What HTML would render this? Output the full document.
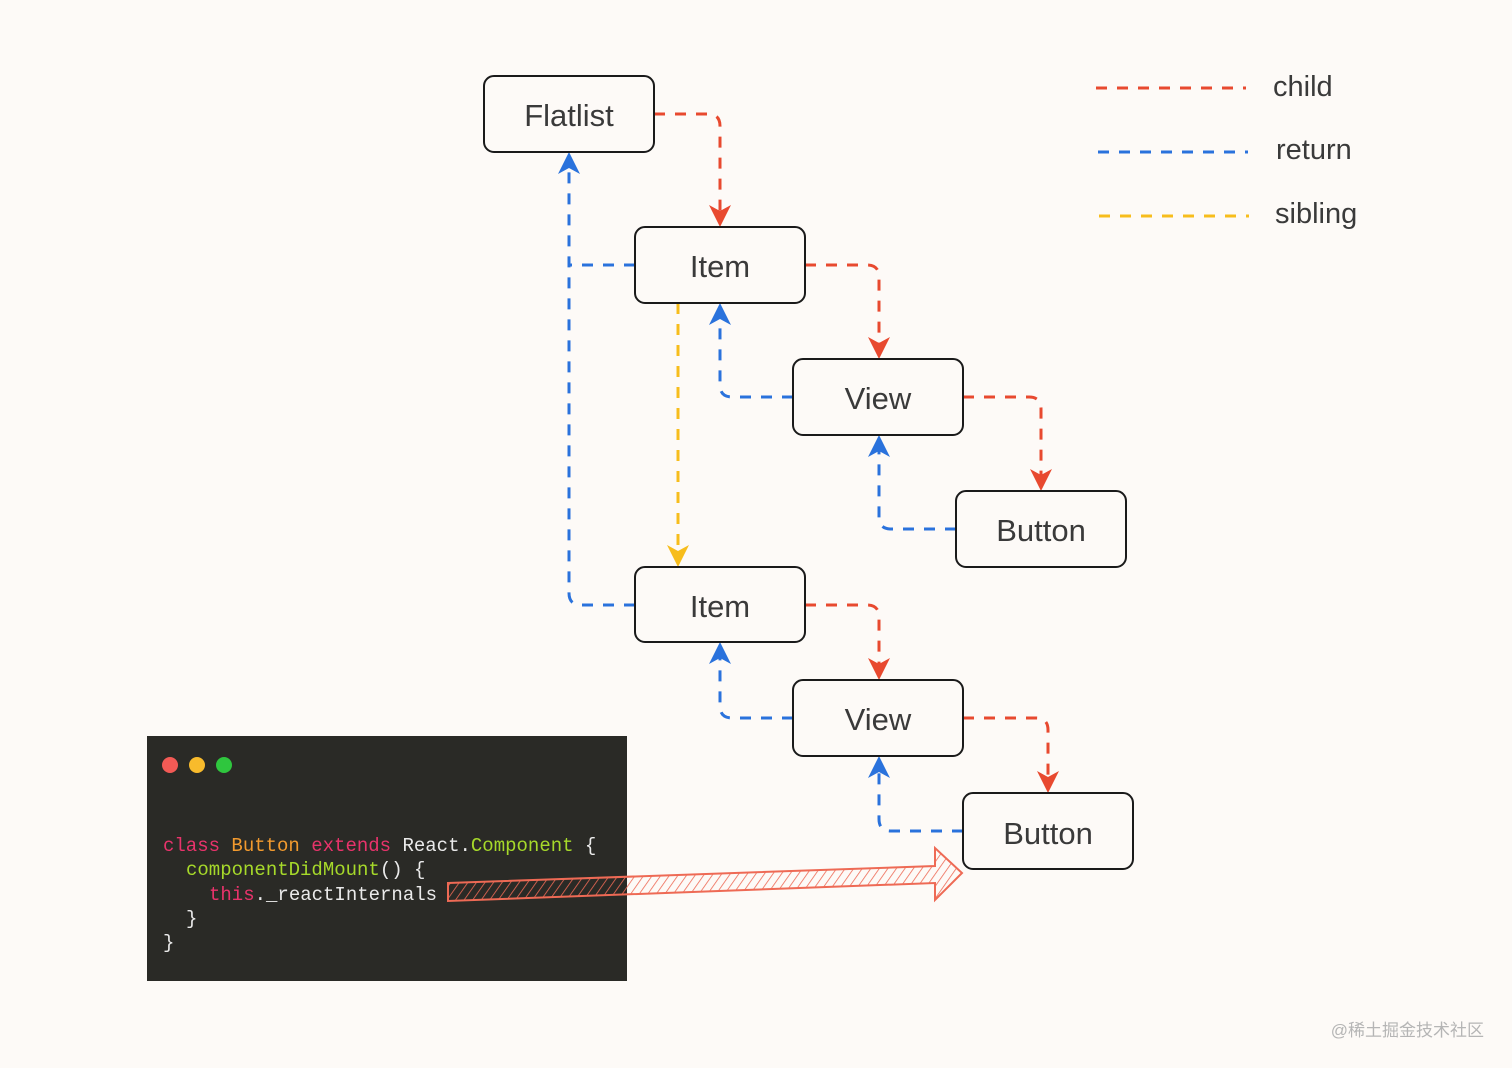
<!DOCTYPE html>
<html><head><meta charset="utf-8"><style>
html,body{margin:0;padding:0;background:#fdfaf7;}
svg{display:block}
</style></head><body>
<svg width="1512" height="1068" viewBox="0 0 1512 1068" xmlns="http://www.w3.org/2000/svg">
<defs>
<pattern id="h" width="7" height="7" patternUnits="userSpaceOnUse" patternTransform="rotate(35)">
<line x1="0" y1="0" x2="0" y2="7" stroke="#ee6a55" stroke-width="1.6"/>
</pattern>
</defs>
<rect width="1512" height="1068" fill="#fdfaf7"/>
<g fill="none" stroke-width="3" stroke-dasharray="11 10">
<g stroke="#e8492f">
<path d="M654,114 H708 Q720,114 720,126 V212"/>
<path d="M805,265 H867 Q879,265 879,277 V344"/>
<path d="M963,397 H1029 Q1041,397 1041,409 V476"/>
<path d="M805,605 H867 Q879,605 879,617 V665"/>
<path d="M963,718 H1036 Q1048,718 1048,730 V778"/>
<path d="M1096,88 H1246"/>
</g>
<g stroke="#2a72dc">
<path d="M635,265 H569"/>
<path d="M635,605 H581 Q569,605 569,593 V168"/>
<path d="M793,397 H732 Q720,397 720,385 V318"/>
<path d="M956,529 H891 Q879,529 879,517 V450"/>
<path d="M793,718 H732 Q720,718 720,706 V657"/>
<path d="M963,831 H891 Q879,831 879,819 V771"/>
<path d="M1098,152 H1248"/>
</g>
<g stroke="#f7bd1c">
<path d="M678,303 V552"/>
<path d="M1099,216 H1249"/>
</g>
</g>
<g fill="#e8492f">
<path d="M720,227 L709,205 L720,211 L731,205Z"/>
<path d="M879,359 L868,337 L879,343 L890,337Z"/>
<path d="M1041,491 L1030,469 L1041,475 L1052,469Z"/>
<path d="M879,680 L868,658 L879,664 L890,658Z"/>
<path d="M1048,793 L1037,771 L1048,777 L1059,771Z"/>
</g>
<g fill="#2a72dc">
<path d="M569,152 L558,174 L569,168 L580,174Z"/>
<path d="M720,303 L709,325 L720,319 L731,325Z"/>
<path d="M879,435 L868,457 L879,451 L890,457Z"/>
<path d="M720,642 L709,664 L720,658 L731,664Z"/>
<path d="M879,756 L868,778 L879,772 L890,778Z"/>
</g>
<path d="M678,567 L667,545 L678,551 L689,545Z" fill="#f7bd1c"/>
<g fill="#fdfaf7" stroke="#1a1a1a" stroke-width="2">
<rect x="484" y="76" width="170" height="76" rx="10"/>
<rect x="635" y="227" width="170" height="76" rx="10"/>
<rect x="793" y="359" width="170" height="76" rx="10"/>
<rect x="956" y="491" width="170" height="76" rx="10"/>
<rect x="635" y="567" width="170" height="75" rx="10"/>
<rect x="793" y="680" width="170" height="76" rx="10"/>
<rect x="963" y="793" width="170" height="76" rx="10"/>
</g>
<g font-family="Liberation Sans, sans-serif" font-size="31" fill="#3a3a3a" text-anchor="middle">
<text x="569" y="126">Flatlist</text>
<text x="720" y="277">Item</text>
<text x="878" y="409">View</text>
<text x="1041" y="541">Button</text>
<text x="720" y="617">Item</text>
<text x="878" y="730">View</text>
<text x="1048" y="844">Button</text>
</g>
<g font-family="Liberation Sans, sans-serif" font-size="29" fill="#3a3a3a">
<text x="1273" y="96">child</text>
<text x="1276" y="159">return</text>
<text x="1275" y="223">sibling</text>
</g>
<rect x="147" y="736" width="480" height="245" fill="#2a2a26"/>
<circle cx="170" cy="765" r="8" fill="#f25a55"/>
<circle cx="197" cy="765" r="8" fill="#f8bb2c"/>
<circle cx="224" cy="765" r="8" fill="#2fc63e"/>
<g font-family="Liberation Mono, monospace" font-size="19" fill="#eaeaea" xml:space="preserve">
<text x="163" y="851"><tspan fill="#e8336b">class</tspan> <tspan fill="#f29a2e">Button</tspan> <tspan fill="#e8336b">extends</tspan> React.<tspan fill="#a6d92a">Component</tspan> {</text>
<text x="186" y="875"><tspan fill="#a6d92a">componentDidMount</tspan>() {</text>
<text x="209" y="900"><tspan fill="#e8336b">this</tspan>._reactInternals</text>
<text x="186" y="924">}</text>
<text x="163" y="948">}</text>
</g>
<path d="M448,883 L935,866 L935,848 L962,873 L935,900 L935,883 L448,901 Z" fill="url(#h)" stroke="#ee6a55" stroke-width="2"/>
<text x="1484" y="1036" font-family="Liberation Sans, 'Noto Sans CJK SC', sans-serif" font-size="17" fill="#b5b5b5" text-anchor="end">@稀土掘金技术社区</text>
</svg>
</body></html>
